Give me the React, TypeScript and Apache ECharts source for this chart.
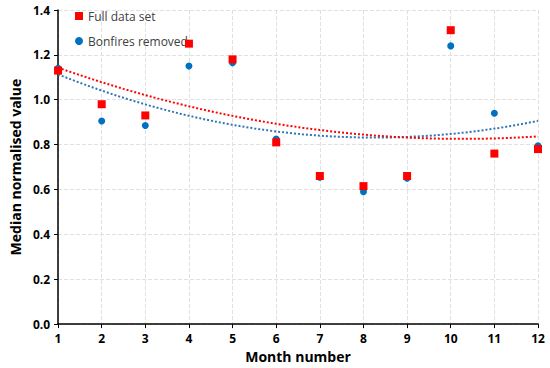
import React, { useEffect, useRef } from "react";
import * as echarts from "echarts";

const months = [1, 2, 3, 4, 5, 6, 7, 8, 9, 10, 11, 12];
const fullData = [1.13, 0.98, 0.93, 1.25, 1.18, 0.81, 0.66, 0.615, 0.66, 1.31, 0.76, 0.78];
const bonfiresRemoved = [1.14, 0.905, 0.885, 1.15, 1.165, 0.825, 0.655, 0.59, 0.65, 1.24, 0.94, 0.795];

// quadratic least-squares fit (trend line) from data
function quadFit(xs: number[], ys: number[]) {
  const n = xs.length;
  let s0 = n, s1 = 0, s2 = 0, s3 = 0, s4 = 0, t0 = 0, t1 = 0, t2 = 0;
  for (let i = 0; i < n; i++) {
    const x = xs[i], y = ys[i];
    s1 += x; s2 += x * x; s3 += x * x * x; s4 += x * x * x * x;
    t0 += y; t1 += x * y; t2 += x * x * y;
  }
  const M = [
    [s0, s1, s2, t0],
    [s1, s2, s3, t1],
    [s2, s3, s4, t2],
  ];
  for (let i = 0; i < 3; i++) {
    for (let k = i + 1; k < 3; k++) {
      const f = M[k][i] / M[i][i];
      for (let j = i; j < 4; j++) M[k][j] -= f * M[i][j];
    }
  }
  const c = [0, 0, 0];
  for (let i = 2; i >= 0; i--) {
    let s = M[i][3];
    for (let j = i + 1; j < 3; j++) s -= M[i][j] * c[j];
    c[i] = s / M[i][i];
  }
  return (x: number) => c[0] + c[1] * x + c[2] * x * x;
}

function trend(ys: number[]) {
  const f = quadFit(months, ys);
  const pts: number[][] = [];
  for (let i = 0; i <= 110; i++) {
    const x = 1 + (i * 11) / 110;
    pts.push([x, f(x)]);
  }
  return pts;
}

const FONT = "'Open Sans', 'Noto Sans', sans-serif";

export default function App() {
  const ref = useRef<HTMLDivElement>(null);
  useEffect(() => {
    const chart = echarts.init(ref.current!, null, { renderer: "svg" });
    chart.setOption({
      animation: false,
      backgroundColor: "#ffffff",
      grid: { left: 56, right: 12, top: 10, bottom: 43 },
      legend: {
        left: 70,
        top: 5,
        orient: "vertical",
        itemGap: 13,
        itemWidth: 8,
        itemHeight: 8,
        textStyle: { fontFamily: FONT, fontSize: 12, color: "#404040" },
        data: [
          { name: "Full data set", icon: "rect" },
          { name: "Bonfires removed", icon: "circle" },
        ],
      },
      xAxis: {
        type: "value",
        min: 1,
        max: 12,
        interval: 1,
        name: "Month number",
        nameLocation: "middle",
        nameGap: 23,
        nameTextStyle: { fontFamily: FONT, fontSize: 14, fontWeight: "bold", color: "#000" },
        axisLine: { show: true, lineStyle: { color: "#000", width: 1.5 } },
        axisTick: { show: true, length: 4, lineStyle: { color: "#000" } },
        axisLabel: { fontFamily: FONT, fontSize: 12, fontWeight: "bold", color: "#000", margin: 8 },
        splitLine: { show: true, lineStyle: { color: "#e0e0e0", type: "dashed" } },
      },
      yAxis: {
        type: "value",
        min: 0,
        max: 1.4,
        interval: 0.2,
        name: "Median normalised value",
        nameLocation: "middle",
        nameGap: 36,
        nameTextStyle: { fontFamily: FONT, fontSize: 14, fontWeight: "bold", color: "#000" },
        axisLine: { show: true, lineStyle: { color: "#000", width: 1.5 } },
        axisTick: { show: true, length: 4, lineStyle: { color: "#000" } },
        axisLabel: {
          fontFamily: FONT,
          fontSize: 12,
          fontWeight: "bold",
          color: "#000",
          margin: 8,
          formatter: (v: number) => v.toFixed(1),
        },
        splitLine: { show: true, lineStyle: { color: "#e0e0e0", type: "dashed" } },
      },
      series: [
        {
          name: "Bonfires removed trend",
          type: "line",
          data: trend(bonfiresRemoved),
          showSymbol: false,
          lineStyle: { color: "#2e75b6", width: 2, type: [2, 2] },
          z: 2,
        },
        {
          name: "Full data set trend",
          type: "line",
          data: trend(fullData),
          showSymbol: false,
          lineStyle: { color: "#ff0000", width: 2, type: [2, 2] },
          z: 2,
        },
        {
          name: "Bonfires removed",
          type: "scatter",
          symbol: "circle",
          symbolSize: 7,
          itemStyle: { color: "#0070c0", opacity: 1 },
          data: months.map((m, i) => [m, bonfiresRemoved[i]]),
          z: 3,
        },
        {
          name: "Full data set",
          type: "scatter",
          symbol: "rect",
          symbolSize: 8,
          itemStyle: { color: "#ff0000", opacity: 1 },
          data: months.map((m, i) => [m, fullData[i]]),
          z: 4,
        },
      ],
    });
    return () => chart.dispose();
  }, []);
  return <div ref={ref} style={{ width: 550, height: 368, position: "absolute", left: 0, top: 0 }} />;
}
